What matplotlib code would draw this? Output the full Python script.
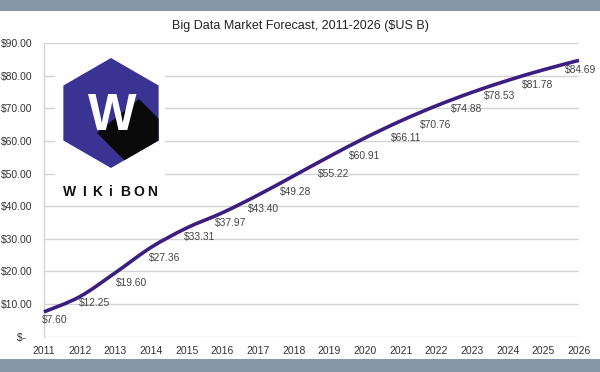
import matplotlib
matplotlib.use('Agg')
import matplotlib.pyplot as plt
from matplotlib.patches import Polygon, Rectangle, PathPatch
from matplotlib.path import Path
import numpy as np

plt.rcParams['font.family'] = ['Liberation Sans', 'DejaVu Sans']

years = list(range(2011, 2027))
market = [7.60, 12.25, 19.60, 27.36, 33.31, 37.97, 43.40, 49.28,
          55.22, 60.91, 66.11, 70.76, 74.88, 78.53, 81.78, 84.69]
y_ticks = [0, 10, 20, 30, 40, 50, 60, 70, 80, 90]
title = 'Big Data Market Forecast, 2011-2026 ($US B)'

# label nudges in pixels (right, down) so the labels sit like the original
label_dx = [11, 15, 16, 14, 13, 8, 6, 2, 4, 0, 5, -1, -5, -8, -6, 2]
label_dy = [8, 6, 10, 11, 9, 10, 14, 16, 18, 18, 17, 19, 17, 16, 15, 10]

W, H = 600, 372
fig = plt.figure(figsize=(W / 100, H / 100), dpi=100)
fig.patch.set_facecolor('white')

border = '#8797a8'
fig.patches.append(Rectangle((0, 1 - 11 / H), 1, 11 / H, transform=fig.transFigure,
                             facecolor=border, edgecolor='none', zorder=0))
fig.patches.append(Rectangle((0, 0), 1, 13 / H, transform=fig.transFigure,
                             facecolor=border, edgecolor='none', zorder=0))

ax = fig.add_axes([44 / W, 1 - 336.7 / H, (579 - 44) / W, (336.7 - 43) / H])
ax.set_xlim(years[0], years[-1])
ax.set_ylim(0, 90)

grid_c = '#d3d3d3'
for s in ['top', 'right', 'bottom']:
    ax.spines[s].set_visible(False)
ax.spines['left'].set_color(grid_c)
ax.spines['left'].set_linewidth(1)
ax.set_yticks(y_ticks)
ax.set_yticklabels(['$-  ' if v == 0 else f'${v:.2f}' for v in y_ticks])
ax.set_xticks(years)
ax.set_xticklabels([str(y) for y in years])
ax.tick_params(axis='both', length=0, labelsize=7.5, colors='#333333')
ax.tick_params(axis='y', pad=8.5)
ax.tick_params(axis='x', pad=6.5)
ax.yaxis.grid(True, color=grid_c, linewidth=1)
ax.set_axisbelow(True)

# smoothed line (Catmull-Rom style bezier through the data)
x = np.array(years, dtype=float)
y = np.array(market)
verts = [(x[0], y[0])]
codes = [Path.MOVETO]
for i in range(len(x) - 1):
    x0, y0 = (x[i - 1], y[i - 1]) if i > 0 else (x[i], y[i])
    x3, y3 = (x[i + 2], y[i + 2]) if i + 2 < len(x) else (x[i + 1], y[i + 1])
    c1 = (x[i] + (x[i + 1] - x0) / 6, y[i] + (y[i + 1] - y0) / 6)
    c2 = (x[i + 1] - (x3 - x[i]) / 6, y[i + 1] - (y3 - y[i]) / 6)
    verts += [c1, c2, (x[i + 1], y[i + 1])]
    codes += [Path.CURVE4] * 3
ax.add_patch(PathPatch(Path(verts, codes), facecolor='none', edgecolor='#3a1f80',
                       linewidth=2.6, capstyle='butt', clip_on=False, zorder=3))

for i, (yr, v) in enumerate(zip(years, market)):
    ax.annotate(f'${v:.2f}', (yr, v), xytext=(label_dx[i], -label_dy[i]),
                textcoords='offset pixels', ha='center', va='center',
                fontsize=7.4, color='#444444', zorder=4)

fig.text(0.5, 1 - 26.5 / H, title, ha='center', va='center', fontsize=9, color='#222222')

# logo overlay in pixel coordinates
lg = fig.add_axes([0, 0, 1, 1], zorder=5)
lg.set_xlim(0, W)
lg.set_ylim(H, 0)
lg.axis('off')
lg.patch.set_alpha(0)
lg.add_patch(Rectangle((55, 52), 110, 147, facecolor='white', edgecolor='none'))
cx, cy, r = 111, 113, 55
ang = np.deg2rad(np.arange(6) * 60 - 90)
hexagon = Polygon(np.column_stack([cx + r * np.cos(ang), cy + r * np.sin(ang)]),
                  closed=True, facecolor='#3b3393', edgecolor='none')
lg.add_patch(hexagon)
shadow = Polygon([(139, 99), (97, 133), (177, 213), (219, 179)], closed=True,
                 facecolor='#0a0a0a', edgecolor='none')
lg.add_patch(shadow)
shadow.set_clip_path(hexagon)
lg.text(112.5, 116.5, 'W', ha='center', va='center', fontsize=37, fontweight='bold',
        color='white')
letters = 'WIKiBON'
lx = np.linspace(70, 152, len(letters))
for ch, xx in zip(letters, lx):
    lg.text(xx, 192, ch, ha='center', va='center', fontsize=10, fontweight='bold',
            color='#111111')

fig.savefig('out.png', dpi=100)
